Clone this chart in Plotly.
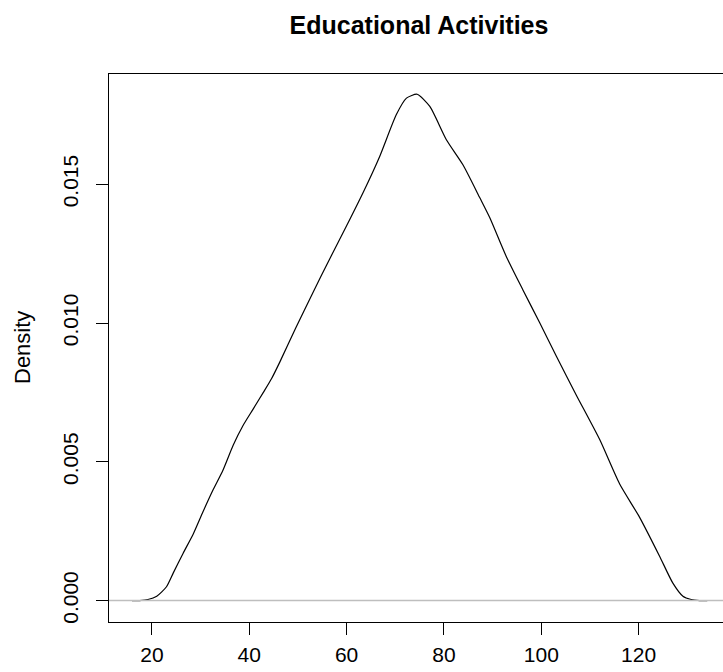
import plotly.graph_objects as go

# Density estimate (x = Educational Activities score, y = density)
density_x = [15.9, 17.5, 19.2, 21.0, 23.0, 24.4, 26.4, 28.5, 30.5, 32.6, 34.6, 36.7,
             38.7, 40.8, 42.9, 44.6, 46.3, 49.5, 53.1, 56.5, 60.0, 63.4, 66.8, 70.2,
             72.3, 74.5, 77.1, 80.5, 83.9, 87.4, 89.4, 92.8, 96.2, 99.7, 103.1, 107.2,
             112.0, 116.1, 120.2, 124.3, 127.0, 129.1, 130.8, 132.5, 134.1]
density_y = [0.0, 0.000003, 0.00004, 0.00016, 0.0005, 0.0010, 0.0017, 0.0024, 0.0032,
             0.0040, 0.0047, 0.0056, 0.0063, 0.0069, 0.0075, 0.0080, 0.0086, 0.0098,
             0.0111, 0.0123, 0.0135, 0.0147, 0.0160, 0.0175, 0.0181, 0.01824, 0.0178,
             0.0166, 0.0157, 0.0145, 0.0138, 0.0124, 0.0112, 0.0100, 0.0088, 0.0074,
             0.0058, 0.0042, 0.0030, 0.0016, 0.00064, 0.00016, 0.00004, 0.000003, 0.0]

x_ticks = [20, 40, 60, 80, 100, 120]
y_ticks = [0.000, 0.005, 0.010, 0.015]
y_tick_labels = ["0.000", "0.005", "0.010", "0.015"]

title_text = "Educational Activities"
y_label = "Density"

FONT = "Liberation Sans, Arial, sans-serif"

fig = go.Figure()
fig.add_trace(go.Scatter(
    x=density_x, y=density_y, mode="lines",
    line=dict(color="black", width=1.2, shape="spline", smoothing=0.6),
    showlegend=False, hoverinfo="skip",
))

# abline(h = 0) in grey, drawn over the curve as R does
fig.add_shape(type="line", xref="paper", yref="y", x0=0, x1=1, y0=0, y1=0,
              line=dict(color="#BEBEBE", width=1.5), layer="above")

fig.update_layout(
    width=723, height=672,
    margin=dict(l=109, r=0, t=74, b=50, autoexpand=False),
    paper_bgcolor="white", plot_bgcolor="white",
    font=dict(family=FONT, color="black", size=21),
    title=dict(text="<b>" + title_text + "</b>", x=(419 - 109) / 614, xref="paper",
               xanchor="center", y=1 - 25.5 / 672, yref="container", yanchor="middle",
               font=dict(family=FONT, size=25, color="black"), automargin=False),
    showlegend=False,
)

fig.update_xaxes(
    range=[11.19, 137.33], tickmode="array", tickvals=x_ticks,
    ticktext=[str(v) for v in x_ticks],
    showgrid=False, zeroline=False, automargin=False,
    showline=True, mirror=True, linecolor="black", linewidth=1,
    ticks="outside", ticklen=12, tickwidth=1, tickcolor="black",
    tickfont=dict(family=FONT, size=21, color="black"),
    ticklabelstandoff=2,
)
fig.update_yaxes(
    range=[-0.00077, 0.01897], tickmode="array", tickvals=y_ticks,
    ticktext=y_tick_labels, tickangle=-90,
    showgrid=False, zeroline=False, automargin=False,
    showline=True, mirror=False, linecolor="black", linewidth=1,
    ticks="outside", ticklen=12, tickwidth=1, tickcolor="black",
    tickfont=dict(family=FONT, size=21, color="black"),
    ticklabelstandoff=10,
)

fig.add_annotation(text=y_label, xref="paper", yref="paper",
                   x=(22 - 109) / 614, y=0.5, xanchor="center", yanchor="middle",
                   textangle=-90, showarrow=False,
                   font=dict(family=FONT, size=22, color="black"))

# remove the page's default body margin so the figure fills the window exactly
fig.write_html(
    "out.html",
    config={"displayModeBar": False},
    post_script="document.body.style.margin='0';"
                "document.documentElement.style.overflow='hidden';",
)
